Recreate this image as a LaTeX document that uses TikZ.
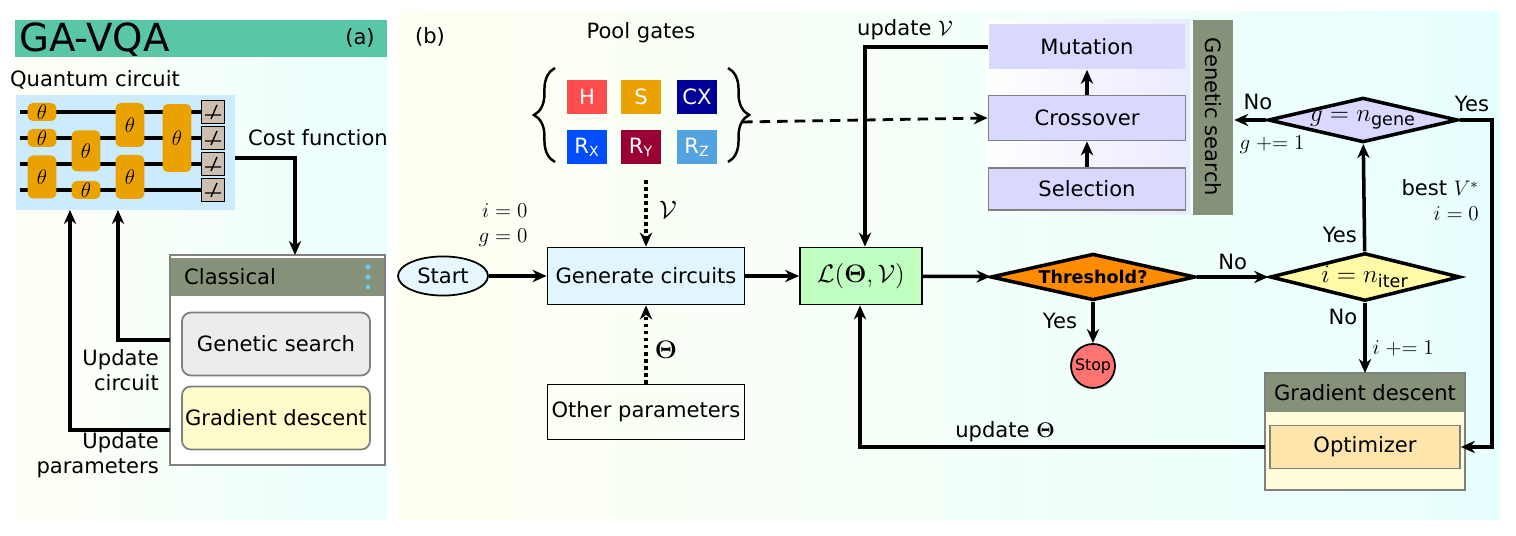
\documentclass[tikz,border=0pt]{standalone}
\usepackage{fontspec}
\setmainfont{DejaVu Sans}
\usepackage{amsmath,amssymb}
\usetikzlibrary{shapes.geometric,arrows.meta,positioning,decorations.pathreplacing}
\definecolor{gateor}{HTML}{E9A200}
\definecolor{headgr}{HTML}{86917A}
\definecolor{teal}{HTML}{5AC6A8}
\tikzset{
  gate/.style={rectangle,rounded corners=3pt,fill=gateor,inner sep=0pt,minimum width=0.58cm,font=\large},
  pool/.style={rectangle,text=white,inner sep=0pt,minimum width=0.8cm,minimum height=0.68cm,font=\large},
  box/.style={rectangle,draw=black,line width=1pt,inner sep=0pt,minimum width=3.94cm,minimum height=1.14cm},
  flow/.style={line width=2pt,-{Stealth[length=8pt,width=7pt]}},
  dia/.style={diamond,draw=black,line width=2pt,aspect=3.3,inner sep=0pt}
}
\begin{document}
\begin{tikzpicture}[x=0.02cm,y=-0.02cm,font=\large]
      \useasboundingbox (0,0) rectangle (1516,536);
      % panel backgrounds
      \shade[left color=yellow!4,right color=cyan!8] (15,20) rectangle (387,520);
      \fill[teal] (15,20) rectangle (387,57);
      \node[anchor=west,font=\fontsize{22}{22}\selectfont] (title) at (13,40) {GA-VQA};
      \node (pa) at (360,38) {(a)};
      \shade[left color=yellow!5,right color=cyan!9] (397,12) rectangle (1500,520);
      \node (pb) at (430,37) {(b)};

      % quantum circuit
      \node (qc) at (95,80) {Quantum circuit};
      \fill[blue!40!cyan!20] (16,95) rectangle (235,210);
      \foreach \y in {112,138,164,190} \draw[line width=2pt] (20,\y) -- (205,\y);
      \node[gate,minimum height=0.36cm] (g1) at (42,112) {$\theta$};
      \node[gate,minimum height=0.36cm] (g2) at (42,138) {$\theta$};
      \node[gate,minimum height=0.86cm] (g3) at (42,177) {$\theta$};
      \node[gate,minimum height=0.82cm] (g4) at (86,151) {$\theta$};
      \node[gate,minimum height=0.36cm] (g5) at (86,190) {$\theta$};
      \node[gate,minimum height=0.88cm] (g6) at (130,125) {$\theta$};
      \node[gate,minimum height=0.88cm] (g7) at (130,177) {$\theta$};
      \node[gate,minimum height=1.36cm] (g8) at (177,138) {$\theta$};
      \foreach \y/\n in {112/m1,138/m2,164/m3,190/m4}{
        \node[rectangle,draw=black,thick,fill=brown!40!gray!50,minimum size=0.46cm,inner sep=0pt] (\n) at (213,\y) {};
        \draw[thick] (\n.center) ++(-8,3) -- ++(16,0) (\n.center) ++(-2,7) -- ++(6,-14);
      }
      \coordinate (qcout) at (235,158);

      % classical block
      \fill[white] (170,255) rectangle (385,465);
      \draw[gray,line width=1pt] (170,255) rectangle (385,465);
      \fill[headgr] (171,258) rectangle (384,296);
      \node[anchor=west] (cl) at (178,277) {Classical};
      \foreach \y in {267,277,287} \fill[cyan!60] (368,\y) circle (2.4);
      \node[box,draw=gray,fill=gray!15,rounded corners=5pt,minimum width=3.76cm,minimum height=1.26cm] (gs) at (276,344) {Genetic search};
      \node[box,draw=gray,fill=yellow!20,rounded corners=5pt,minimum width=3.76cm,minimum height=1.26cm] (gd) at (276,418) {Gradient descent};
      \coordinate (clin) at (295,255);
      \draw[flow] (qcout) -| (clin);
      \node (cf) at (318,138) {Cost function};
      \draw[flow] (170,340) coordinate (uc) -| (118,210);
      \node[align=right,anchor=east] (ucl) at (165,370) {Update\\circuit};
      \draw[flow] (170,430) coordinate (up) -| (70,210);
      \node[align=right,anchor=east] (upl) at (165,455) {Update\\parameters};

      % pool gates
      \node (pg) at (641,33) {Pool gates};
      \node[pool,fill=red!70] (H) at (587,97) {H};
      \node[pool,fill=gateor] (S) at (641,97) {S};
      \node[pool,fill=blue!60!black] (CX) at (697,97) {CX};
      \node[pool,fill=blue!70!cyan] (RX) at (587,147) {R\textsubscript{X}};
      \node[pool,fill=purple!80!black] (RY) at (641,147) {R\textsubscript{Y}};
      \node[pool,fill=cyan!70!blue!70] (RZ) at (697,147) {R\textsubscript{Z}};
      \draw[line width=1.4pt,decorate,decoration={brace,amplitude=12pt}] (555,162) -- (555,68);
      \draw[line width=1.4pt,decorate,decoration={brace,amplitude=12pt}] (728,68) -- (728,162);

      % main flow
      \node[ellipse,draw=black,line width=1pt,fill=cyan!10,minimum width=1.8cm,minimum height=0.72cm] (start) at (443,276) {Start};
      \node[align=right] (init) at (503,225) {$i=0$\\$g=0$};
      \node[box,fill=cyan!12] (gen) at (646,276) {Generate circuits};
      \node[box,fill=green!25,minimum width=2.44cm] (loss) at (861,276) {\Large$\mathcal{L}(\boldsymbol{\Theta},\mathcal{V})$};
      \node[box,minimum height=1.1cm] (other) at (646,412) {Other parameters};
      \node[dia,fill=orange!90!yellow,minimum width=4.1cm,font=\normalsize\bfseries] (thr) at (1093,277) {Threshold?};
      \node[circle,draw=black,line width=1pt,fill=red!55,minimum size=0.88cm,inner sep=0pt,font=\small] (stop) at (1093,366) {Stop};
      \node[dia,fill=yellow!35,minimum width=3.8cm] (iter) at (1365,277) {\Large$i=n_{\mathrm{iter}}$};
      \node[dia,fill=blue!15,minimum width=3.8cm,aspect=4] (gene) at (1363,120) {\Large$g=n_{\mathrm{gene}}$};

      \draw[flow] (start) -- (gen);
      \draw[flow] (gen) -- (loss);
      \draw[flow] (loss) -- (thr);
      \draw[flow] (thr) -- node[above]{No} (iter);
      \draw[flow] (thr) -- (stop);
      \node (yes1) at (1060,321) {Yes};
      \draw[line width=2pt,dotted,-{Stealth[length=8pt,width=7pt]}] (646,180) coordinate (pgout) -- (gen);
      \node (vl) at (668,210) {\Large$\mathcal{V}$};
      \draw[line width=2pt,dotted,-{Stealth[length=8pt,width=7pt]}] (other) -- (gen);
      \node (tl) at (666,350) {\Large$\boldsymbol{\Theta}$};

      % genetic search
      \shade[left color=white,right color=blue!8] (985,20) rectangle (1190,215);
      \node[rectangle,fill=blue!15,minimum width=3.94cm,minimum height=0.9cm,inner sep=0pt] (mut) at (1087,47) {Mutation};
      \node[box,draw=gray,fill=blue!15,minimum height=0.9cm] (cro) at (1087,118) {Crossover};
      \node[box,draw=gray,fill=blue!15,minimum height=0.84cm] (sel) at (1087,189) {Selection};
      \draw[flow] (sel) -- (cro);
      \draw[flow] (cro) -- (mut);
      \fill[headgr] (1193,20) rectangle (1233,215);
      \node[rotate=-90] (gsl) at (1213,117) {Genetic search};
      \draw[line width=1.6pt,dash pattern=on 6pt off 4pt,-{Stealth[length=8pt,width=7pt]}] (742,122) coordinate (pgr) -- (cro.west);
      \draw[flow] (mut.west) -| (loss.north -| 865,0);
      \node (uv) at (905,30) {update $\mathcal{V}$};

      % decisions
      \draw[flow] (iter) -- node[pos=0.15,left]{Yes} (gene);
      \draw[flow] (gene.west) -- ++(-32,0) coordinate (gno);
      \node (no2) at (1258,102) {No};
      \node (ginc) at (1272,145) {$g \mathrel{+}= 1$};

      % gradient descent
      \fill[yellow!15] (1265,373) rectangle (1465,490);
      \draw[gray,line width=1pt] (1265,373) rectangle (1465,490);
      \fill[headgr] (1266,374) rectangle (1464,412);
      \node (gdh) at (1365,393) {Gradient descent};
      \node[box,draw=gray,fill=yellow!40!orange!30,minimum width=3.8cm,minimum height=0.86cm] (opt) at (1365,447) {Optimizer};
      \draw[flow] (iter) -- node[pos=0.2,left]{No} node[pos=0.65,right]{$i \mathrel{+}= 1$} (1365,373);
      \draw[flow] (gene.east) -- ++(32,0) coordinate (gy) |- (opt.east);
      \node (yes3) at (1472,104) {Yes};
      \node[align=right,anchor=east] (best) at (1485,200) {best $V^{*}$\\$i=0$};
      \draw[flow] (1265,447) coordinate (gdout) -| (loss.south -| 860,0);
      \node (ut) at (1005,432) {update $\boldsymbol{\Theta}$};
\end{tikzpicture}
\end{document}
